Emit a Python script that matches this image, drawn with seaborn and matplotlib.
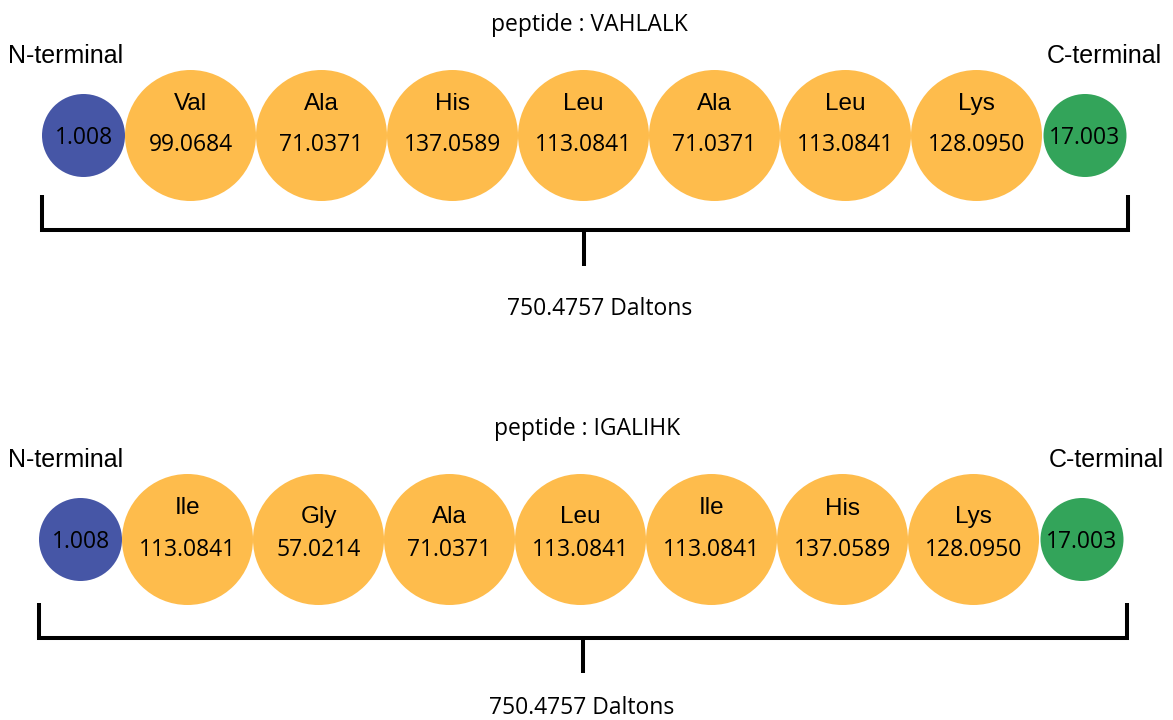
import matplotlib
matplotlib.use("Agg")
import matplotlib.pyplot as plt
import seaborn as sns
import pandas as pd

# ---------------- data ----------------
peptides = ["VAHLALK", "IGALIHK"]
residues_1 = ["Val", "Ala", "His", "Leu", "Ala", "Leu", "Lys"]
masses_1 = ["99.0684", "71.0371", "137.0589", "113.0841", "71.0371", "113.0841", "128.0950"]
residues_2 = ["Ile", "Gly", "Ala", "Leu", "Ile", "His", "Lys"]
masses_2 = ["113.0841", "57.0214", "71.0371", "113.0841", "113.0841", "137.0589", "128.0950"]
n_term_mass = "1.008"
c_term_mass = "17.003"
totals = ["750.4757", "750.4757"]
residue_sets = [residues_1, residues_2]
mass_sets = [masses_1, masses_2]

# ---------------- layout / style ----------------
W, H, DPI = 1173, 720, 100
COL = {"N": "#4656A6", "res": "#FEBC4C", "C": "#33A45A"}
DIAM = {"N": 83, "res": 131, "C": 83}  # pixels
SIZES = {k: (v * 72 / DPI) ** 2 for k, v in DIAM.items()}

rows = [
    dict(cy=135.5, nx=83.5, x0=190.5, step=131, cx=1085,
         name_off=[-25.5] * 7, val_off=15.5, term_off=8.5,
         br_l=42, br_r=1128, br_top=195, br_y=230, tick_x=584, tick_y=266,
         tot_x=600, tot_y=315, pep_x=589, pep_y=31,
         nlab=(66, 63), clab=(1104, 63)),
    dict(cy=539.5, nx=80.5, x0=187.5, step=131, cx=1082,
         name_off=[-25.5, -16.5, -16.5, -16.5, -25.5, -24.5, -16.0], val_off=16.0, term_off=9.0,
         br_l=39, br_r=1127, br_top=603, br_y=638, tick_x=583, tick_y=673,
         tot_x=582, tot_y=714, pep_x=587, pep_y=435,
         nlab=(66, 467), clab=(1106, 467)),
]

sns.set_theme(style="white")
plt.rcParams["font.family"] = ["Open Sans", "DejaVu Sans"]
SANS_A = ["Liberation Sans", "DejaVu Sans"]
SANS_M = ["Open Sans", "DejaVu Sans"]

fig = plt.figure(figsize=(W / DPI, H / DPI), dpi=DPI)
fig.patch.set_facecolor("white")
ax = fig.add_axes([0, 0, 1, 1])
ax.set_xlim(0, W)
ax.set_ylim(H, 0)
ax.axis("off")

for r, lay in enumerate(rows):
    res = residue_sets[r]
    mas = mass_sets[r]
    xs = [lay["nx"]] + [lay["x0"] + i * lay["step"] for i in range(len(res))] + [lay["cx"]]
    kinds = ["N"] + ["res"] * len(res) + ["C"]
    labels = [n_term_mass] + mas + [c_term_mass]
    df = pd.DataFrame({"x": xs, "y": [lay["cy"]] * len(xs), "kind": kinds})
    sns.scatterplot(data=df, x="x", y="y", hue="kind", palette=COL,
                    size="kind", sizes=SIZES, linewidth=0, legend=False, ax=ax,
                    zorder=2)

    # mass values
    for i, (x, k, lab) in enumerate(zip(xs, kinds, labels)):
        off = lay["val_off"] if k == "res" else lay["term_off"]
        ax.text(x, lay["cy"] + off, lab, ha="center", va="baseline",
                fontsize=16.5, family=SANS_M, color="black", zorder=3)
    # residue names
    for i, name in enumerate(res):
        x = lay["x0"] + i * lay["step"]
        ax.text(x, lay["cy"] + lay["name_off"][i], name, ha="center", va="baseline",
                fontsize=17.5, family=SANS_A, color="black", zorder=3)

    # terminal labels
    ax.text(lay["nlab"][0], lay["nlab"][1], "N-terminal", ha="center", va="baseline",
            fontsize=18, family=SANS_A, color="black")
    ax.text(lay["clab"][0], lay["clab"][1], "C-terminal", ha="center", va="baseline",
            fontsize=18, family=SANS_A, color="black")

    # title
    ax.text(lay["pep_x"], lay["pep_y"], "peptide : " + peptides[r], ha="center",
            va="baseline", fontsize=16.5, family=SANS_M, color="black")

    # bracket
    lw = 2.9
    ax.plot([lay["br_l"], lay["br_l"], lay["br_r"], lay["br_r"]],
            [lay["br_top"], lay["br_y"], lay["br_y"], lay["br_top"]],
            color="black", lw=lw, solid_joinstyle="miter", solid_capstyle="butt")
    ax.plot([lay["tick_x"], lay["tick_x"]], [lay["br_y"], lay["tick_y"]],
            color="black", lw=lw, solid_capstyle="butt")

    ax.text(lay["tot_x"], lay["tot_y"], totals[r] + " Daltons", ha="center",
            va="baseline", fontsize=16.5, family=SANS_M, color="black")

fig.savefig("out.png", dpi=DPI, facecolor="white")
